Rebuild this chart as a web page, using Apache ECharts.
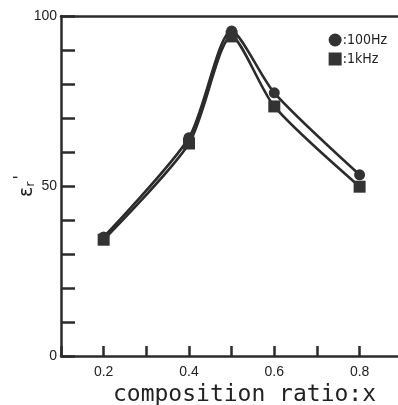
<!DOCTYPE html>
<html>
<head>
<meta charset="utf-8">
<script src="https://cdn.jsdelivr.net/npm/echarts@6/dist/echarts.min.js"></script>
<style>
  html, body { margin: 0; padding: 0; background: #fff; }
  #chart { width: 398px; height: 405px; }
</style>
</head>
<body>
<div id="chart"></div>
<script>
// composition ratio x
const ratios = [0.2, 0.4, 0.5, 0.6, 0.8]
// relative permittivity
const eps100Hz = [35.0, 64.2, 95.6, 77.4, 53.3]
const eps1kHz = [34.2, 62.5, 94.0, 73.4, 49.8]
const xLabels = ['0.2', '0.4', '0.6', '0.8']
const yLabels = ['0', '50', '100']

const dark = '#2b2b2b'
const pts = (ys) => ratios.map((x, i) => [x, ys[i]])

const chart = echarts.init(document.getElementById('chart'))

const makeSeries = (name, ys, symbol, size) => ({
  name: name,
  type: 'line',
  data: pts(ys),
  smooth: 0.25,
  symbol: symbol,
  symbolSize: size,
  showAllSymbol: true,
  lineStyle: { color: dark, width: 2.6 },
  itemStyle: { color: '#333', borderWidth: 0 }
})

chart.setOption({
  animation: false,
  grid: { left: 61, right: 0, top: 16, bottom: 49, outerBoundsMode: 'none' },
  legend: {
    right: 6,
    top: 28,
    orient: 'vertical',
    itemWidth: 13,
    itemHeight: 13,
    itemGap: 5,
    data: [
      { name: '100Hz', icon: 'circle' },
      { name: '1kHz', icon: 'rect' }
    ],
    formatter: (n) => ':' + n,
    textStyle: { fontFamily: 'DejaVu Sans Condensed', fontSize: 14, color: '#222', padding: [0, 0, 0, -4] }
  },
  xAxis: [{
    type: 'value',
    min: 0.1,
    max: 0.89,
    interval: 0.1,
    splitLine: { show: false },
    axisLine: { lineStyle: { color: dark, width: 2.5 } },
    axisTick: { inside: true, length: 10, lineStyle: { color: dark, width: 2.5 } },
    axisLabel: {
      color: '#222',
      fontFamily: 'Liberation Sans',
      fontSize: 14,
      margin: 9,
      showMaxLabel: false,
      formatter: (v) => {
        const s = v.toFixed(1)
        return xLabels.indexOf(s) >= 0 ? s : ''
      }
    },
    name: 'composition ratio:x',
    nameLocation: 'middle',
    nameGap: 21,
    nameTextStyle: { fontFamily: 'DejaVu Sans Mono', fontSize: 23, color: '#222', padding: [0, 0, 0, 30] }
  }, {
    type: 'value',
    position: 'top',
    min: 0.1,
    max: 0.89,
    axisLine: { show: true, lineStyle: { color: dark, width: 2.5 } },
    axisTick: { show: false },
    axisLabel: { show: false },
    splitLine: { show: false }
  }],
  yAxis: {
    type: 'value',
    min: 0,
    max: 100,
    interval: 10,
    splitLine: { show: false },
    axisLine: { show: true, lineStyle: { color: dark, width: 2.5 } },
    axisTick: { inside: true, length: 14, lineStyle: { color: dark, width: 2.5 } },
    axisLabel: {
      color: '#222',
      fontFamily: 'Liberation Sans',
      fontSize: 14,
      margin: 4,
      formatter: (v) => (yLabels.indexOf(String(v)) >= 0 ? String(v) : '')
    },
    name: '{e|ε}{r|r}{p|\'}',
    nameLocation: 'middle',
    nameRotate: 90,
    nameGap: 20,
    nameMoveOverlap: false,
    nameTextStyle: {
      rich: {
        e: { fontFamily: 'DejaVu Sans', fontSize: 19, color: '#222' },
        r: { fontFamily: 'DejaVu Sans', fontSize: 13, color: '#222', padding: [8, 0, 0, 0] },
        p: { fontFamily: 'DejaVu Sans', fontSize: 16, color: '#222', padding: [0, 0, 12, 2] }
      }
    }
  },
  series: [
    makeSeries('100Hz', eps100Hz, 'circle', 11),
    makeSeries('1kHz', eps1kHz, 'rect', 12)
  ]
})
</script>
</body>
</html>
